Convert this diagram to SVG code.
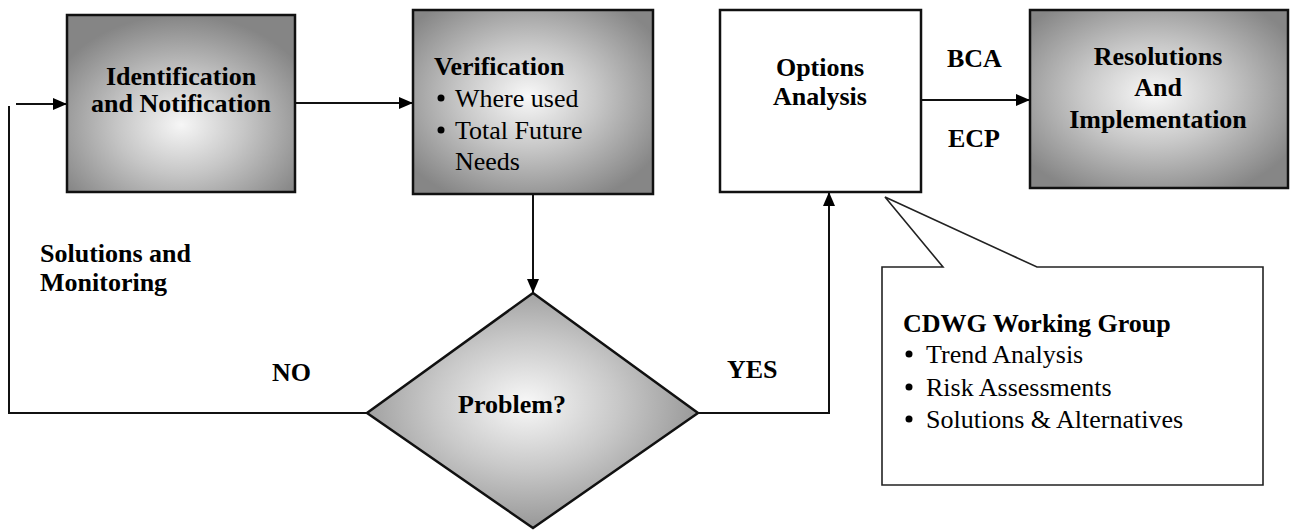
<svg xmlns="http://www.w3.org/2000/svg" width="1293" height="531" viewBox="0 0 1293 531">
  <defs>
    <radialGradient id="shadeLow" cx="0.5" cy="0.62" r="0.62">
      <stop offset="0" stop-color="#f6f6f6"/>
      <stop offset="0.45" stop-color="#c6c6c6"/>
      <stop offset="1" stop-color="#858585"/>
    </radialGradient>
    <radialGradient id="shadeMid" cx="0.48" cy="0.47" r="0.62">
      <stop offset="0" stop-color="#f8f8f8"/>
      <stop offset="0.45" stop-color="#c8c8c8"/>
      <stop offset="1" stop-color="#868686"/>
    </radialGradient>
    <marker id="arrow" viewBox="0 0 14 12" refX="14" refY="6" markerWidth="14" markerHeight="12" markerUnits="userSpaceOnUse" orient="auto">
      <path d="M0,0 L14,6 L0,12 Z" fill="#000"/>
    </marker>
    <style>
      .box { stroke: #111; stroke-width: 2.5; }
      .plain { fill: #fff; stroke: #111; stroke-width: 2.5; }
      .note { fill: #fff; stroke: #222; stroke-width: 1.6; stroke-linejoin: miter; }
      .link { fill: none; stroke: #111; stroke-width: 2; }
      .b { font-family: "Liberation Serif", "Times New Roman", serif; font-weight: bold; font-size: 26px; fill: #000; }
      .r { font-family: "Liberation Serif", "Times New Roman", serif; font-size: 26px; fill: #000; }
      .mid { text-anchor: middle; }
    </style>
  </defs>

  <g id="connectors">
    <!-- feedback loop back to the start -->
    <line class="link" x1="16" y1="104" x2="67" y2="104" marker-end="url(#arrow)"/>
    <polyline class="link" points="9,106 9,413 367,413"/>
    <!-- main flow -->
    <line class="link" x1="295" y1="103" x2="413" y2="103" marker-end="url(#arrow)"/>
    <line class="link" x1="533" y1="194" x2="533" y2="293" marker-end="url(#arrow)"/>
    <polyline class="link" points="698,413 829,413 829,192" marker-end="url(#arrow)"/>
    <line class="link" x1="921" y1="100" x2="1030" y2="100" marker-end="url(#arrow)"/>
  </g>

  <g id="identification">
    <rect class="box" x="67" y="15" width="228" height="177" fill="url(#shadeLow)"/>
    <text class="b mid" x="181" y="85">Identification</text>
    <text class="b mid" x="181" y="112">and Notification</text>
  </g>

  <g id="verification">
    <rect class="box" x="413" y="10" width="240" height="184" fill="url(#shadeMid)"/>
    <text class="b" x="434" y="75">Verification</text>
    <circle cx="441" cy="98" r="3.5" fill="#000"/>
    <text class="r" x="455" y="107">Where used</text>
    <circle cx="441" cy="130" r="3.5" fill="#000"/>
    <text class="r" x="455" y="139">Total Future</text>
    <text class="r" x="455" y="170">Needs</text>
  </g>

  <g id="options-analysis">
    <rect class="plain" x="720" y="10" width="201" height="182"/>
    <text class="b mid" x="820" y="76">Options</text>
    <text class="b mid" x="820" y="105">Analysis</text>
  </g>

  <g id="resolutions">
    <rect class="box" x="1030" y="10" width="258" height="178" fill="url(#shadeMid)"/>
    <text class="b mid" x="1158" y="65">Resolutions</text>
    <text class="b mid" x="1158" y="96">And</text>
    <text class="b mid" x="1158" y="128">Implementation</text>
  </g>

  <g id="problem">
    <polygon points="533,293 698,413 533,528 367,413" fill="url(#shadeMid)" stroke="#111" stroke-width="2.5" stroke-linejoin="miter"/>
    <text class="b mid" x="512" y="413">Problem?</text>
  </g>

  <g id="working-group">
    <path class="note" d="M882,267 L943,267 L885,197 L1037,267 L1263,267 L1263,485 L882,485 Z"/>
    <text class="b" x="903" y="332">CDWG Working Group</text>
    <circle cx="909" cy="354" r="3.5" fill="#000"/>
    <text class="r" x="926" y="363">Trend Analysis</text>
    <circle cx="909" cy="387" r="3.5" fill="#000"/>
    <text class="r" x="926" y="396">Risk Assessments</text>
    <circle cx="909" cy="419" r="3.5" fill="#000"/>
    <text class="r" x="926" y="428">Solutions &amp; Alternatives</text>
  </g>

  <g id="labels">
    <text class="b" x="40" y="262">Solutions and</text>
    <text class="b" x="40" y="291">Monitoring</text>
    <text class="b" x="272" y="381">NO</text>
    <text class="b" x="727" y="378">YES</text>
    <text class="b" x="947" y="67">BCA</text>
    <text class="b" x="948" y="147">ECP</text>
  </g>
</svg>
